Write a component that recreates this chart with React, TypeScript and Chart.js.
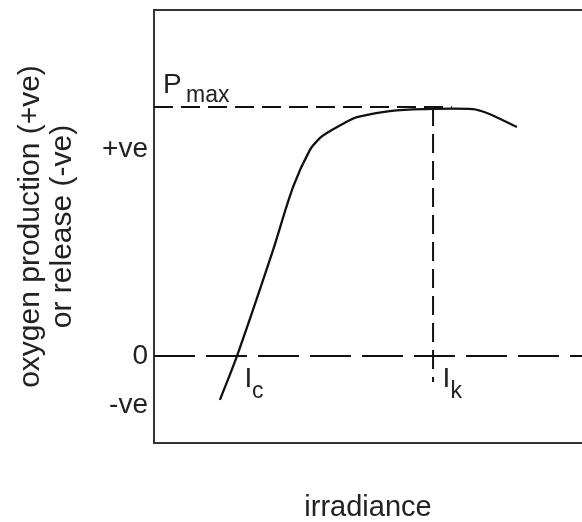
import React, { useEffect, useRef } from 'react';
import { Chart, registerables } from 'chart.js';

Chart.register(...registerables);

// P–I curve (irradiance in arbitrary units 0–100, oxygen as % of Pmax)
const irradiance = [15.4, 19.4, 27.6, 32.5, 36.4, 38.8, 40.4, 45.8, 47.4, 55.1, 62.9, 74.5, 77.8, 84.8];
const oxygen = [-17.7, 0, 41.4, 67.9, 82.7, 87.6, 89.6, 94.8, 96.0, 98.4, 99.2, 99.2, 97.6, 92.0];

const Pmax = 100;
const Ic = 19.4;
const Ik = 65.2;

const pmaxLineX = [0, 69.6];
const ikLineY = [Pmax, -10.5];
const zeroLineX = [0, 100];

const yTickValues = [-20, 0, 83];
const yTickLabels = ['-ve', '0', '+ve'];

const xTitle = 'irradiance';
const yTitle = ['oxygen production (+ve)', 'or release (-ve)'];

const FONT = '"Liberation Sans", Arial, sans-serif';
const INK = '#222';
const LINE = '#111';

const labelPlugin = {
  id: 'curveLabels',
  afterDatasetsDraw(chart: any) {
    const { ctx, scales } = chart;
    const x = scales.x;
    const y = scales.y;
    ctx.save();
    ctx.fillStyle = INK;
    ctx.textAlign = 'left';
    ctx.textBaseline = 'alphabetic';
    const big = `28px ${FONT}`;
    const small = `23px ${FONT}`;
    // Pmax
    const px = x.getPixelForValue(0);
    const py = y.getPixelForValue(Pmax);
    ctx.font = big;
    ctx.fillText('P', px + 9, py - 14);
    ctx.font = small;
    ctx.fillText('max', px + 32, py - 5);
    // Ic
    const y0 = y.getPixelForValue(0);
    const icx = x.getPixelForValue(Ic);
    ctx.font = big;
    ctx.fillText('I', icx + 7.5, y0 + 31);
    ctx.font = small;
    ctx.fillText('c', icx + 15, y0 + 42);
    // Ik
    const ikx = x.getPixelForValue(Ik);
    ctx.font = big;
    ctx.fillText('I', ikx + 9.5, y0 + 31);
    ctx.font = small;
    ctx.fillText('k', ikx + 17.5, y0 + 42);
    ctx.restore();
  },
};

export default function App() {
  const canvasRef = useRef<HTMLCanvasElement | null>(null);

  useEffect(() => {
    const canvas = canvasRef.current;
    if (!canvas) return;
    const curve = irradiance.map((v, i) => ({ x: v, y: oxygen[i] }));
    const pmaxLine = pmaxLineX.map((v) => ({ x: v, y: Pmax }));
    const ikLine = ikLineY.map((v) => ({ x: Ik, y: v }));
    const zeroLine = zeroLineX.map((v) => ({ x: v, y: 0 }));

    const chart = new Chart(canvas, {
      type: 'line',
      data: {
        datasets: [
          {
            data: zeroLine,
            borderColor: LINE,
            borderWidth: 2,
            borderDash: [41, 11],
            pointRadius: 0,
            tension: 0,
          },
          {
            data: pmaxLine,
            borderColor: LINE,
            borderWidth: 2,
            borderDash: [19, 8],
            pointRadius: 0,
            tension: 0,
          },
          {
            data: ikLine,
            borderColor: LINE,
            borderWidth: 2,
            borderDash: [19, 8],
            pointRadius: 0,
            tension: 0,
          },
          {
            data: curve,
            borderColor: LINE,
            borderWidth: 2.3,
            pointRadius: 0,
            tension: 0.3,
          },
        ],
      },
      options: {
        animation: false,
        responsive: false,
        layout: { padding: 0, autoPadding: false },
        plugins: {
          legend: { display: false },
          tooltip: { enabled: false },
        },
        scales: {
          x: {
            type: 'linear',
            position: 'bottom',
            min: 0,
            max: 100,
            grid: { display: false, drawTicks: false },
            border: { display: true, color: '#333', width: 2 },
            ticks: { display: false },
            title: {
              display: true,
              text: xTitle,
              color: INK,
              font: { family: FONT, size: 29, lineHeight: 1 },
              padding: { top: 0, bottom: 0 },
            },
            afterFit: (s: any) => {
              s.height = 79;
              s.paddingLeft = 0;
              s.paddingRight = 0;
            },
          },
          x2: {
            type: 'linear',
            position: 'top',
            min: 0,
            max: 100,
            grid: { display: false, drawTicks: false },
            border: { display: true, color: '#333', width: 2 },
            ticks: { display: false },
            afterFit: (s: any) => {
              s.height = 10;
              s.paddingLeft = 0;
              s.paddingRight = 0;
            },
          },
          y: {
            type: 'linear',
            min: -35,
            max: 139,
            grid: { display: false, drawTicks: false },
            border: { display: true, color: '#333', width: 2 },
            afterBuildTicks: (s: any) => {
              s.ticks = yTickValues.map((v) => ({ value: v }));
            },
            ticks: {
              color: INK,
              padding: 6,
              font: { family: FONT, size: 28 },
              callback: (value: any) => {
                const i = yTickValues.indexOf(Number(value));
                return i >= 0 ? yTickLabels[i] : '';
              },
            },
            title: {
              display: true,
              text: yTitle,
              color: INK,
              font: { family: FONT, size: 30, lineHeight: 1.05 },
              padding: { top: 15, bottom: 0 },
            },
            afterFit: (s: any) => {
              s.width = 154;
              s.paddingTop = 0;
              s.paddingBottom = 0;
            },
          },
        },
      },
      plugins: [labelPlugin],
    } as any);

    return () => {
      chart.destroy();
    };
  }, []);

  return (
    <div style={{ position: 'fixed', left: 0, top: 0, width: 582, height: 522, background: '#fff' }}>
      <canvas ref={canvasRef} width={582} height={522} style={{ width: 582, height: 522 }} />
    </div>
  );
}
